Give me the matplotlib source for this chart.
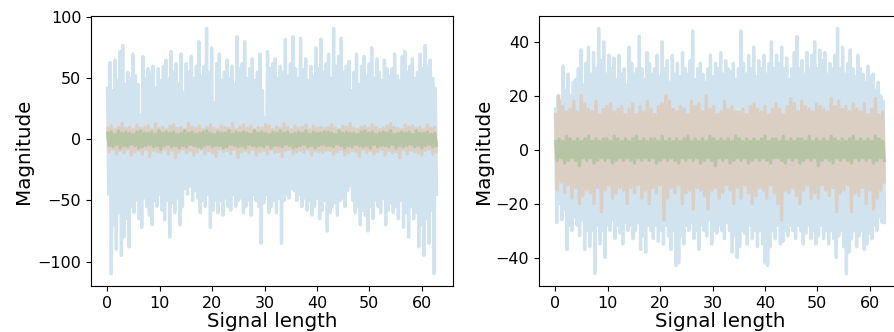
import numpy as np
import matplotlib
matplotlib.use("Agg")
from matplotlib import pyplot as plt

# Signal samples, as (peak, trough) pairs along the signal.
# Left panel
left_blue_hi = [42, 63, 40, 65, 48, 72, 77, 45, 55, 50, 70, 52, 45, 20, 68, 50, 58, 55, 60, 42,
                58, 48, 60, 65, 50, 72, 55, 62, 45, 70, 38, 62, 55, 68, 50, 60, 80, 52, 60, 91,
                55, 75, 30, 62, 70, 48, 55, 65, 50, 60, 45, 84, 58, 62, 80, 50, 58, 66, 48, 55,
                70, 40, 18, 72, 58, 62, 66, 50, 60, 55, 82, 52, 62, 84, 58, 50, 83, 57, 66, 48,
                60, 52, 75, 58, 82, 55, 62, 70, 50, 91, 60, 68, 83, 55, 60, 64, 40, 55, 70, 45,
                60, 68, 52, 62, 75, 50, 66, 55, 48, 65, 58, 52, 58, 70, 52, 48, 68, 72, 55, 60,
                66, 50, 55, 70, 58, 77, 60, 65, 50, 42]
left_blue_lo = [-45, -110, -70, -90, -60, -95, -80, -65, -88, -55, -60, -50, -65, -72, -48, -55, -62, -70, -50, -55,
                -45, -58, -66, -50, -80, -52, -60, -48, -70, -55, -40, -45, -38, -50, -42, -48, -60, -50, -55, -45,
                -72, -58, -50, -60, -50, -62, -48, -55, -58, -45, -55, -50, -48, -60, -55, -50, -62, -45, -50, -55,
                -85, -52, -45, -60, -55, -50, -60, -48, -85, -50, -45, -48, -40, -42, -50, -45, -55, -48, -58, -50,
                -62, -55, -48, -65, -58, -50, -75, -60, -55, -52, -62, -50, -48, -55, -42, -38, -50, -60, -55, -70,
                -58, -62, -75, -55, -65, -50, -55, -60, -48, -70, -58, -52, -60, -55, -65, -50, -72, -60, -80, -55,
                -65, -60, -88, -70, -95, -65, -85, -58, -110, -45]
left_orange_hi = [9, 11, 8, 10, 13, 9, 10, 8, 12, 9, 10, 11, 8, 13, 9, 10, 8, 11, 12, 9,
                  10, 8, 13, 10, 9, 11, 8, 10, 12, 9, 8, 11, 10, 9, 13, 8, 10, 12, 9, 11,
                  8, 10, 9, 12, 11, 8, 10, 9, 13, 10, 8, 11, 9, 10, 12, 8, 11, 9, 10, 9,
                  10, 12, 9, 8, 11, 10, 13, 9, 8, 10, 11, 9, 12, 10, 8, 9, 11, 13, 10, 9,
                  8, 12, 10, 11, 9, 10, 8, 12, 9, 10]
left_orange_lo = [-10, -8, -12, -9, -11, -8, -13, -10, -9, -12, -8, -14, -9, -10, -11, -8, -12, -9, -15, -10,
                  -8, -11, -9, -13, -10, -8, -12, -9, -11, -14, -8, -10, -9, -12, -8, -15, -10, -9, -11, -8,
                  -13, -10, -9, -12, -8, -11, -10, -14, -9, -8, -12, -10, -9, -11, -8, -13, -9, -10, -11, -9,
                  -9, -12, -10, -8, -13, -11, -9, -10, -14, -8, -11, -9, -12, -10, -8, -13, -9, -11, -10, -15,
                  -8, -12, -9, -10, -11, -13, -9, -8, -12, -10]
left_green_hi = [5, 6, 4, 7, 5, 6, 5, 4, 6, 7, 5, 5, 6, 4, 7, 5, 6, 5, 6, 4,
                 5, 7, 5, 6, 4, 5, 6, 7, 5, 4, 6, 5, 5, 7, 4, 6, 5, 6, 5, 4,
                 7, 5, 6, 5, 4, 6, 5, 7, 5, 6, 4, 5, 6, 5, 7, 4, 6, 5, 5, 6,
                 6, 5, 4, 7, 5, 6, 5, 5, 4, 6, 7, 5, 6, 4, 5, 6, 5, 7, 4, 5,
                 6, 5, 6, 4, 7, 5, 5, 6, 4, 5]
left_green_lo = [-5, -6, -4, -7, -5, -6, -4, -5, -7, -6, -5, -4, -6, -5, -8, -5, -4, -6, -5, -7,
                 -5, -6, -4, -5, -6, -7, -5, -4, -6, -5, -5, -7, -6, -4, -5, -6, -5, -7, -4, -5,
                 -6, -5, -6, -4, -7, -5, -5, -6, -4, -5, -7, -6, -5, -4, -6, -5, -7, -5, -4, -5,
                 -5, -6, -4, -5, -7, -5, -6, -4, -5, -6, -5, -7, -4, -6, -5, -5, -6, -4, -7, -5,
                 -6, -5, -4, -6, -5, -7, -5, -4, -6, -5]

# Right panel
right_blue_hi = [15, 20, 18, 31, 22, 28, 20, 25, 26, 30, 37, 24, 32, 38, 28, 36, 30, 45, 33, 40,
                 28, 35, 30, 34, 26, 35, 28, 30, 24, 38, 32, 28, 30, 42, 30, 26, 36, 32, 28, 30,
                 35, 27, 40, 30, 33, 25, 35, 28, 32, 27, 36, 30, 28, 33, 44, 26, 30, 32, 28, 25,
                 30, 35, 27, 32, 30, 36, 28, 33, 30, 29, 32, 26, 30, 44, 32, 28, 35, 30, 38, 27,
                 33, 30, 35, 28, 32, 40, 30, 35, 32, 38, 30, 34, 26, 30, 36, 42, 30, 33, 28, 36,
                 30, 35, 40, 30, 37, 33, 36, 28, 32, 30, 35, 45, 30, 38, 28, 32, 37, 30, 27, 35,
                 30, 28, 25, 31, 27, 28, 22, 25, 20, 18]
right_blue_lo = [-27, -20, -26, -22, -37, -28, -30, -25, -28, -32, -26, -37, -30, -36, -30, -46, -28, -35, -30, -40,
                 -28, -30, -26, -33, -28, -31, -35, -27, -30, -28, -33, -30, -27, -37, -32, -38, -28, -30, -33, -28,
                 -34, -30, -35, -28, -32, -37, -30, -43, -42, -32, -35, -28, -30, -27, -33, -30, -37, -28, -30, -32,
                 -26, -35, -30, -31, -28, -30, -33, -27, -30, -38, -32, -40, -36, -30, -31, -35, -28, -33, -30, -36,
                 -30, -35, -42, -43, -36, -30, -33, -28, -35, -34, -30, -32, -28, -30, -33, -28, -30, -35, -31, -28,
                 -33, -30, -35, -32, -28, -33, -30, -35, -30, -33, -40, -32, -30, -36, -46, -38, -33, -30, -36, -32,
                 -30, -37, -35, -31, -33, -28, -30, -25, -27, -27]
right_orange_hi = [13, 20, 16, 14, 15, 18, 14, 20, 17, 15, 14, 18, 13, 15, 16, 17, 14, 15, 16, 13,
                   15, 17, 13, 16, 14, 18, 15, 13, 16, 17, 20, 18, 15, 14, 16, 15, 13, 18, 16, 17,
                   14, 20, 15, 16, 13, 14, 18, 15, 16, 14, 14, 15, 13, 16, 17, 15, 14, 16, 13, 15,
                   17, 15, 13, 16, 19, 17, 14, 18, 16, 15, 14, 17, 16, 15, 14, 19, 16, 18, 15, 16,
                   14, 17, 15, 14, 17, 13, 15, 19, 13, 14]
right_orange_lo = [-15, -12, -16, -13, -18, -14, -20, -17, -15, -16, -20, -14, -23, -15, -13, -18, -16, -14, -15, -20,
                   -14, -16, -13, -18, -15, -20, -14, -16, -13, -26, -18, -14, -16, -13, -20, -16, -15, -22, -14, -15,
                   -17, -22, -15, -14, -18, -16, -13, -15, -20, -14, -18, -13, -16, -20, -17, -14, -15, -18, -13, -16,
                   -20, -26, -15, -16, -14, -17, -20, -15, -13, -18, -16, -18, -13, -15, -17, -14, -23, -16, -15, -13,
                   -23, -16, -17, -14, -20, -15, -22, -18, -15, -12]
right_green_hi = [3, 4, 3, 5, 4, 3, 4, 3, 4, 5, 3, 4, 3, 4, 4, 3, 5, 4, 3, 4,
                  3, 4, 5, 3, 4, 3, 4, 4, 3, 5, 3, 4, 3, 4, 3, 4, 5, 3, 4, 3,
                  4, 3, 5, 4, 3, 4, 3, 4, 3, 5, 4, 3, 4, 3, 4, 3, 4, 5, 3, 4,
                  4, 3, 5, 3, 4, 3, 4, 4, 3, 5, 3, 4, 3, 4, 3, 5, 4, 3, 4, 3,
                  4, 5, 3, 4, 3, 4, 3, 5, 4, 3]
right_green_lo = [-4, -3, -5, -4, -3, -4, -6, -3, -4, -3, -5, -4, -3, -4, -3, -5, -4, -3, -4, -3,
                  -4, -5, -3, -4, -3, -4, -3, -5, -4, -3, -4, -3, -4, -5, -3, -4, -3, -4, -3, -5,
                  -4, -3, -4, -6, -3, -4, -3, -5, -4, -3, -4, -3, -5, -4, -3, -4, -3, -4, -5, -3,
                  -3, -4, -5, -3, -4, -3, -5, -4, -3, -4, -3, -6, -4, -3, -4, -5, -3, -4, -3, -4,
                  -5, -3, -4, -3, -4, -3, -5, -4, -3, -4]

signal_end = 62.83  # 20*pi


def zigzag(hi, lo):
    y = np.column_stack([hi, lo]).ravel()
    x = np.linspace(0, signal_end, len(y))
    return x, y


fig = plt.figure(figsize=(8.94, 3.32), dpi=100)
ax1 = fig.add_axes([91 / 894, 46 / 332, 362 / 894, 270 / 332])
ax2 = fig.add_axes([539 / 894, 46 / 332, 362 / 894, 270 / 332])

panels = [
    (ax1, [(left_blue_hi, left_blue_lo), (left_orange_hi, left_orange_lo), (left_green_hi, left_green_lo)]),
    (ax2, [(right_blue_hi, right_blue_lo), (right_orange_hi, right_orange_lo), (right_green_hi, right_green_lo)]),
]
colors = ['tab:blue', 'tab:orange', 'tab:green']

for ax, series in panels:
    for (hi, lo), c in zip(series, colors):
        x, y = zigzag(hi, lo)
        ax.plot(x, y, color=c, alpha=0.2, lw=2.4)
    ax.set_xlabel('Signal length', fontsize=14.3)
    ax.set_ylabel('Magnitude', fontsize=14.3)
    ax.tick_params(labelsize=11.5)
    ax.set_xticks([0, 10, 20, 30, 40, 50, 60])
    ax.xaxis.set_label_coords(0.5, -0.097)

ax2.set_yticks([-40, -20, 0, 20, 40])
ax1.yaxis.set_label_coords(-0.159, 0.5)
ax2.yaxis.set_label_coords(-0.126, 0.5)

fig.savefig('out.png', dpi=100)
